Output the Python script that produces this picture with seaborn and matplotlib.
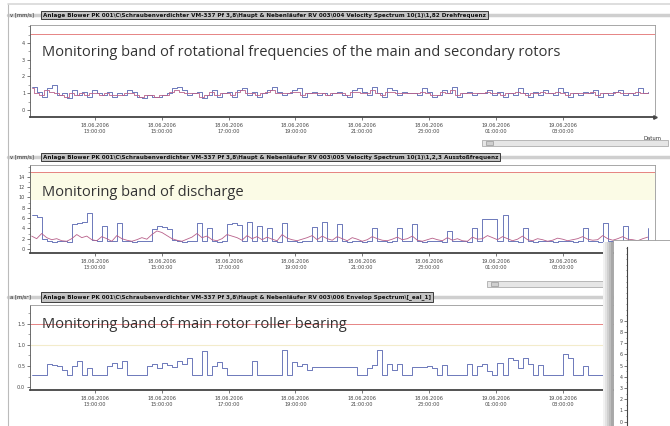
import matplotlib
matplotlib.use("Agg")
import matplotlib.pyplot as plt
import matplotlib.dates as mdates
from matplotlib.lines import Line2D
from matplotlib.patches import Rectangle
from matplotlib.ticker import MultipleLocator
import pandas as pd
import seaborn as sns

sns.set_theme(style="white")
plt.rcParams["font.family"] = ["DejaVu Sans"]

W, H = 670, 426

# measurement times (one reading every 9 minutes)
times = pd.date_range("2006-06-18 11:06", periods=124, freq="9min")
tick_times = pd.to_datetime(["2006-06-18 13:00", "2006-06-18 15:00", "2006-06-18 17:00",
                             "2006-06-18 19:00", "2006-06-18 21:00", "2006-06-18 23:00",
                             "2006-06-19 01:00", "2006-06-19 03:00"])

# panel 1 - rotational frequency band, v [mm/s]
rot_blue = [1.4, 1.1, 0.8, 1.3, 1.5, 0.9, 1.0, 0.7, 1.2, 0.9,
            1.1, 0.8, 1.2, 1.0, 0.9, 1.1, 0.8, 1.0, 0.9, 1.2,
            1.1, 0.8, 0.7, 0.9, 0.8, 0.8, 0.9, 1.0, 1.3, 1.4,
            1.2, 0.9, 1.0, 1.1, 0.7, 0.9, 1.2, 0.8, 1.0, 1.1,
            0.8, 1.2, 1.3, 0.9, 1.1, 0.8, 1.0, 1.2, 1.4, 1.1,
            0.9, 1.0, 1.2, 1.3, 0.8, 1.0, 1.1, 0.9, 1.0, 0.9,
            1.0, 1.1, 0.9, 0.8, 1.2, 1.3, 1.1, 0.9, 1.4, 1.0,
            0.8, 1.3, 1.2, 0.9, 1.1, 1.0, 1.0, 0.9, 1.3, 1.1,
            0.8, 0.9, 1.2, 1.0, 1.4, 0.8, 1.0, 1.1, 0.9, 1.0,
            1.0, 1.2, 0.9, 1.1, 0.8, 1.0, 0.9, 1.3, 1.0, 0.8,
            1.1, 0.9, 1.2, 1.0, 0.9, 1.3, 1.1, 0.8, 1.0, 0.9,
            1.1, 1.0, 1.2, 0.8, 1.0, 0.9, 1.1, 1.2, 0.9, 1.0,
            0.9, 1.3, 1.0, 1.1]
rot_pink = [1.3, 1.0, 0.9, 1.2, 1.1, 1.0, 0.9, 0.8, 1.0, 0.9,
            1.0, 0.9, 1.0, 1.0, 0.9, 1.0, 0.9, 0.9, 0.9, 1.0,
            1.0, 0.9, 0.8, 0.9, 0.9, 0.8, 0.9, 0.9, 1.1, 1.2,
            1.1, 1.0, 1.0, 1.0, 0.8, 0.9, 1.1, 0.9, 1.0, 1.0,
            0.9, 1.1, 1.2, 1.0, 1.0, 0.9, 1.0, 1.1, 1.2, 1.0,
            1.0, 1.0, 1.1, 1.1, 0.9, 1.0, 1.0, 1.0, 1.0, 0.9,
            1.0, 1.0, 1.0, 0.9, 1.1, 1.1, 1.0, 1.0, 1.2, 1.0,
            0.9, 1.1, 1.1, 1.0, 1.0, 1.0, 1.0, 1.0, 1.1, 1.0,
            0.9, 0.9, 1.1, 1.0, 1.2, 0.9, 1.0, 1.0, 1.0, 1.0,
            1.0, 1.1, 1.0, 1.0, 0.9, 1.0, 1.0, 1.1, 1.0, 0.9,
            1.0, 1.0, 1.1, 1.0, 1.0, 1.1, 1.0, 0.9, 1.0, 1.0,
            1.0, 1.0, 1.1, 0.9, 1.0, 1.0, 1.0, 1.1, 1.0, 1.0,
            1.0, 1.1, 1.0, 1.0]

# panel 2 - discharge band, v [mm/s]
dis_blue = [6.5, 6.3, 2.0, 1.5, 1.4, 1.5, 1.5, 1.4, 4.8, 5.0,
            5.2, 7.0, 1.8, 1.5, 4.5, 1.6, 1.5, 5.0, 1.6, 1.5,
            1.4, 1.5, 1.6, 1.5, 3.8, 4.5, 4.2, 3.9, 1.8, 1.5,
            1.4, 1.5, 1.5, 5.0, 1.6, 4.0, 1.5, 1.4, 1.5, 4.8,
            5.0, 4.6, 1.5, 5.2, 1.6, 4.5, 1.5, 4.0, 1.5, 1.4,
            5.0, 1.6, 1.5, 1.4, 1.5, 1.6, 4.2, 1.5, 5.3, 1.6,
            1.5, 4.8, 1.5, 1.4, 1.6, 1.5, 1.4, 1.5, 4.0, 1.6,
            1.5, 1.4, 1.5, 4.0, 1.6, 1.5, 4.8, 1.5, 1.4, 1.5,
            1.6, 1.5, 1.4, 3.5, 1.5, 1.6, 1.5, 1.4, 4.0, 1.5,
            5.8, 5.8, 5.8, 1.5, 6.5, 1.6, 1.5, 1.4, 4.0, 1.5,
            1.4, 1.5, 1.6, 1.5, 1.4, 1.5, 1.6, 1.5, 1.4, 1.5,
            4.0, 1.6, 1.5, 1.4, 5.0, 1.5, 1.4, 1.5, 4.5, 1.6,
            1.5, 1.4, 1.5, 4.0]
dis_pink = [2.5, 2.0, 3.0, 2.2, 1.8, 2.0, 1.6, 1.5, 2.0, 2.8,
            2.2, 2.5, 1.8, 1.6, 2.4, 2.0, 1.5, 2.6, 2.0, 1.7,
            1.5, 1.8, 2.2, 1.9, 2.8, 3.5, 3.2, 2.6, 2.0, 1.7,
            1.5, 1.9, 2.3, 3.0, 2.2, 2.5, 1.8, 1.6, 2.0, 2.8,
            2.5, 2.2, 1.7, 2.6, 2.0, 2.4, 1.8, 2.3, 1.9, 1.6,
            2.8, 2.1, 1.8, 1.6, 1.9, 2.2, 2.6, 1.8, 2.5, 2.0,
            1.7, 2.4, 2.0, 1.6, 2.2, 1.9, 1.5, 1.8, 2.4, 2.0,
            1.7, 1.6, 1.9, 2.3, 1.8, 2.0, 2.5, 1.7, 1.5, 1.8,
            2.1, 1.8, 1.6, 2.2, 1.7, 2.0, 1.6, 1.5, 2.3, 1.9,
            2.0, 2.6, 2.2, 1.8, 2.4, 2.0, 1.6, 1.9, 2.5, 1.8,
            1.6, 2.0, 1.8, 1.5, 1.7, 2.1, 1.9, 1.6, 1.8, 2.0,
            2.4, 1.9, 1.7, 1.8, 2.6, 2.0, 1.7, 2.0, 2.4, 1.9,
            1.8, 1.6, 2.0, 2.3]

# panel 3 - main rotor roller bearing, a [m/s2]
env = [0.28, 0.28, 0.28, 0.55, 0.52, 0.50, 0.40, 0.28, 0.50, 0.62,
       0.28, 0.45, 0.28, 0.28, 0.28, 0.50, 0.58, 0.45, 0.62, 0.28,
       0.28, 0.28, 0.28, 0.50, 0.55, 0.45, 0.58, 0.52, 0.48, 0.62,
       0.55, 0.68, 0.28, 0.28, 0.85, 0.28, 0.50, 0.60, 0.45, 0.28,
       0.28, 0.28, 0.28, 0.28, 0.62, 0.28, 0.28, 0.28, 0.28, 0.28,
       0.88, 0.28, 0.60, 0.50, 0.55, 0.40, 0.47, 0.47, 0.47, 0.47,
       0.47, 0.47, 0.47, 0.47, 0.47, 0.28, 0.28, 0.45, 0.52, 0.87,
       0.28, 0.55, 0.40, 0.55, 0.28, 0.28, 0.48, 0.48, 0.48, 0.50,
       0.45, 0.28, 0.52, 0.28, 0.28, 0.28, 0.28, 0.55, 0.28, 0.50,
       0.55, 0.38, 0.28, 0.58, 0.28, 0.70, 0.65, 0.45, 0.68, 0.55,
       0.28, 0.52, 0.28, 0.28, 0.28, 0.28, 0.78, 0.70, 0.28, 0.28,
       0.50, 0.28, 0.28, 0.28, 0.28, 0.28, 0.28, 0.28, 0.28, 0.28,
       0.28, 0.28, 0.28, 0.28]

headers = [
    "Anlage Blower PK 001\\C\\Schraubenverdichter VM-337 Pf 3,8\\Haupt & Nebenläufer RV 003\\004 Velocity Spectrum 10(1)\\1,82 Drehfrequenz",
    "Anlage Blower PK 001\\C\\Schraubenverdichter VM-337 Pf 3,8\\Haupt & Nebenläufer RV 003\\005 Velocity Spectrum 10(1)\\1,2,3 Ausstoßfrequenz",
    "Anlage Blower PK 001\\C\\Schraubenverdichter VM-337 Pf 3,8\\Haupt & Nebenläufer RV 003\\006 Envelop Spectrum\\[_eal_1]",
]
units = ["v [mm/s]", "v [mm/s]", "a [m/s²]"]
captions = ["Monitoring band of rotational frequencies of the main and secondary rotors",
            "Monitoring band of discharge",
            "Monitoring band of main rotor roller bearing"]

BLUE = "#5563b0"
PINK = "#b8608a"
RED = "#e27070"

x_left = pd.Timestamp("2006-06-18 11:03")
x_right = pd.Timestamp("2006-06-19 05:46")


def box(l, t, r, b):
    return [l / W, 1 - b / H, (r - l) / W, (b - t) / H]


def fy(y):
    return 1 - y / H


fig = plt.figure(figsize=(W / 100, H / 100), dpi=100)
fig.patch.set_facecolor("white")


def make_panel(rect, ylim, yticks, fmt, minor):
    ax = fig.add_axes(box(*rect))
    ax.set_facecolor("white")
    ax.set_xlim(x_left, x_right)
    ax.set_ylim(*ylim)
    ax.set_yticks(yticks)
    ax.set_yticklabels([fmt % v for v in yticks])
    ax.yaxis.set_minor_locator(MultipleLocator(minor))
    ax.tick_params(axis="y", which="major", labelsize=3.6, labelcolor="#444", length=2.5,
                   width=0.5, pad=1, left=True, color="#444")
    ax.tick_params(axis="y", which="minor", length=1.2, width=0.4, left=True, color="#666")
    ax.set_xticks(tick_times)
    ax.xaxis.set_major_formatter(mdates.DateFormatter("%d.%m.%Y\n%H:%M:%S"))
    ax.tick_params(axis="x", labelsize=3.6, labelcolor="#444", length=2, width=0.5,
                   pad=2, bottom=True, color="#444")
    for s in ax.spines.values():
        s.set_color("#999")
        s.set_linewidth(0.6)
    ax.spines["bottom"].set_color("#444")
    ax.spines["bottom"].set_linewidth(1.3)
    ax.spines["left"].set_color("#555")
    ax.plot(1, 0, ">", color="#444", ms=2.5, transform=ax.transAxes, clip_on=False)
    return ax


# ---- panel 1
ax1 = make_panel((30, 25, 655, 117), (-0.42, 5.07), [0, 1, 2, 3, 4], "%d", 0.5)
ax1.axhline(4.55, color=RED, lw=0.6)
sns.lineplot(x=times, y=rot_blue, ax=ax1, color=BLUE, lw=0.6, drawstyle="steps-post", legend=False)
sns.lineplot(x=times, y=rot_pink, ax=ax1, color=PINK, lw=0.6, drawstyle="steps-mid", legend=False)

# ---- panel 2
ax2 = make_panel((30, 165, 655, 253), (-0.78, 16.3), [0, 2, 4, 6, 8, 10, 12, 14], "%d", 1)
ax2.axhspan(9.5, 15, color="#fbfbe6", lw=0)
ax2.axhline(15, color=RED, lw=0.6)
sns.lineplot(x=times, y=dis_blue, ax=ax2, color=BLUE, lw=0.6, drawstyle="steps-post", legend=False)
sns.lineplot(x=times, y=dis_pink, ax=ax2, color=PINK, lw=0.6, legend=False)

# ---- panel 3
ax3 = make_panel((30, 305, 655, 390), (-0.07, 1.95), [0.0, 0.5, 1.0, 1.5], "%.1f", 0.25)
ax3.axhline(1.0, color="#f3eccb", lw=0.8)
ax3.axhline(1.5, color=RED, lw=0.6)
sns.lineplot(x=times, y=env, ax=ax3, color=BLUE, lw=0.6, drawstyle="steps-post", legend=False)

for ax in (ax1, ax2, ax3):
    ax.set(xlabel="", ylabel="")
    for lab in ax.get_xticklabels():
        lab.set_linespacing(1.3)

# header bars and units
for y, hdr, unit in [(15, headers[0], units[0]), (157, headers[1], units[1]),
                     (297, headers[2], units[2])]:
    fig.add_artist(Line2D([8 / W, 1], [fy(y), fy(y)], color="#cfcfcf", lw=2.5, zorder=0.5))
    fig.text(10 / W, fy(y), unit, fontsize=3.8, color="#333", va="center", ha="left")
    fig.text(43 / W, fy(y), hdr, fontsize=4.1, color="#111", va="center", ha="left",
             fontweight="bold",
             bbox=dict(boxstyle="square,pad=0.35", fc="#c4c4c4", ec="#222", lw=0.6))

# captions
fig.text(42 / W, fy(52), captions[0], fontsize=10.5, color="#333", family="Open Sans",
         va="center")
fig.text(42 / W, fy(192), captions[1], fontsize=10.5, color="#333", family="Open Sans",
         va="center")
fig.text(42 / W, fy(324), captions[2], fontsize=10.5, color="#333", family="Open Sans",
         va="center")

# window frame bits
fig.add_artist(Line2D([8 / W, 8 / W], [0, fy(4)], color="#bbbbbb", lw=0.8))
fig.add_artist(Line2D([8 / W, 1], [fy(4), fy(4)], color="#d8d8d8", lw=1.2))
fig.text(652 / W, fy(138), "Datum", fontsize=3.8, color="#333", ha="center", va="center")
for sy, sx0, sx1 in [(143, 482, 668), (284, 487, 612)]:
    fig.patches.append(Rectangle((sx0 / W, fy(sy + 3)), (sx1 - sx0) / W, 6 / H,
                                 transform=fig.transFigure, fc="#e6e6e6", ec="#a0a0a0", lw=0.5))
    fig.patches.append(Rectangle(((sx0 + 4) / W, fy(sy + 2)), 7 / W, 4 / H,
                                 transform=fig.transFigure, fc="#cfcfcf", ec="#888", lw=0.4))

# overlapping window at the lower right
for k, g in enumerate(["#f2f2f2", "#e3e3e3", "#d0d0d0", "#bdbdbd", "#a8a8a8"]):
    fig.patches.append(Rectangle(((603 + 2 * k) / W, 0), 2 / W, (426 - 242) / H,
                                 transform=fig.transFigure, fc=g, lw=0, zorder=2))
fig.patches.append(Rectangle((613 / W, 0), 57 / W, (426 - 240) / H,
                             transform=fig.transFigure, fc="white", ec="#9a9a9a", lw=0.6, zorder=2))
ax_in = fig.add_axes(box(627, 247, 668, 426), zorder=5)
ax_in.patch.set_alpha(0)
ax_in.set_xlim(0, 1)
ax_in.set_ylim(-0.4, 15.6)
ax_in.set_xticks([])
ax_in.set_yticks(range(10))
ax_in.yaxis.set_minor_locator(MultipleLocator(0.5))
ax_in.tick_params(axis="y", labelsize=3.4, labelcolor="#444", length=2, width=0.5, pad=1,
                  left=True, color="#444")
ax_in.tick_params(axis="y", which="minor", length=1, width=0.4, left=True)
for name, s in ax_in.spines.items():
    s.set_visible(name == "left")
ax_in.spines["left"].set_color("#444")
ax_in.spines["left"].set_linewidth(0.8)

fig.savefig("out.png", dpi=100, facecolor="white")
